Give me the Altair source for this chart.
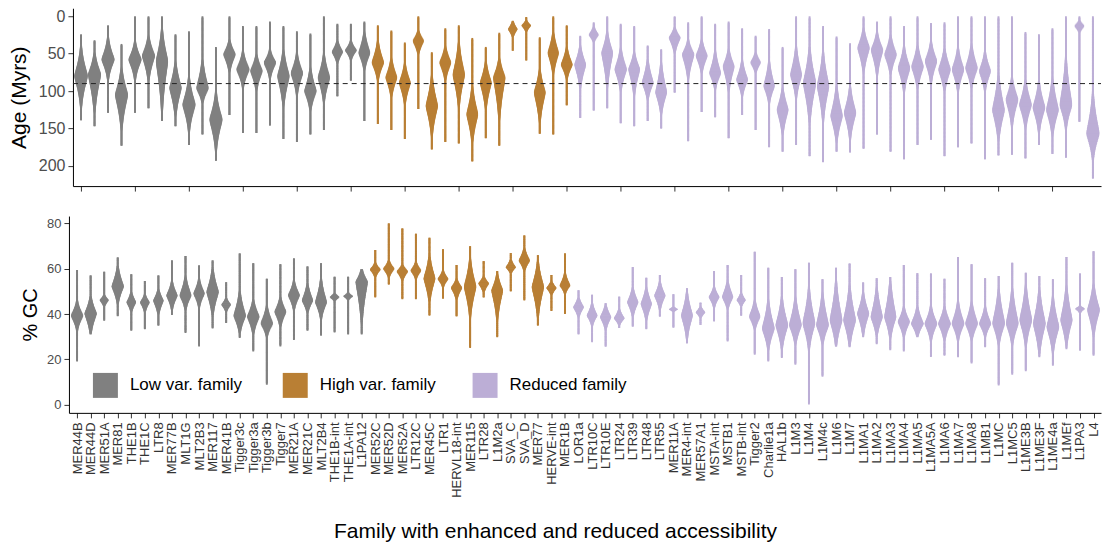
import altair as alt
import numpy as np
import pandas as pd

alt.data_transformers.disable_max_rows()

families = [
    "MER44B", "MER44D", "MER51A", "MER81", "THE1B", "THE1C", "LTR8", "MER77B", "MLT1G", "MLT2B3",
    "MER117", "MER41B", "Tigger3c", "Tigger3a", "Tigger3b", "Tigger7", "MER21A", "MER21C", "MLT2B4",
    "THE1B-int", "THE1A-int", "L1PA12",
    "MER52C", "MER52D", "MER52A", "LTR12C", "MER45C", "LTR1", "HERVL18-int", "MER115", "LTR28",
    "L1M2a", "SVA_C", "SVA_D", "MER77", "HERVE-int", "MER1B",
    "LOR1a", "LTR10C", "LTR10E", "LTR24", "LTR39", "LTR48", "LTR55", "MER11A", "MER4-int", "MER57A1",
    "MSTA-int", "MSTB1", "MSTB-int", "Tigger2", "Charlie1a", "HAL1b", "L1M3", "L1M4", "L1M4c", "L1M6",
    "L1M7", "L1MA1", "L1MA2", "L1MA3", "L1MA4", "L1MA5", "L1MA5A", "L1MA6", "L1MA7", "L1MA8", "L1MB1",
    "L1MC", "L1MC5", "L1ME3B", "L1ME3F", "L1ME4a", "L1MEf", "L1PA3", "L4",
]
group_names = ["Low var. family", "High var. family", "Reduced family"]
group_sizes = [22, 15, 39]
group_colors = ["#808080", "#b97f34", "#bcaed6"]
age_threshold = 90

# Age (Myrs): min, body low, mode, body high, max, half width
age_min = [24, 32, 12, 37, 0, 0, 0, 24, 20, 0, 41, 0, 13, 13, 7, 13, 20, 23, 0, 10, 10, 7,
           12, 19, 35, 0, 48, 16, 12, 29, 41, 22, 6, 1, 28, 0, 12,
           26, 8, 0, 10, 13, 39, 44, 0, 8, 0, 10, 7, 16, 26, 17, 41, 0, 0, 13, 27, 36, 0, 7, 0,
           13, 0, 9, 8, 0, 0, 0, 0, 0, 21, 24, 16, 0, 0, 0]
age_lo = [50, 55, 35, 77, 39, 32, 26, 68, 90, 66, 110, 35, 52, 55, 48, 52, 55, 75, 57, 35, 35, 26,
          39, 61, 68, 21, 88, 44, 44, 101, 66, 61, 8, 6, 77, 26, 46,
          44, 15, 26, 48, 52, 64, 70, 17, 35, 35, 52, 48, 64, 50, 66, 101, 48, 52, 57, 101, 101, 21, 26, 30,
          46, 44, 39, 48, 48, 44, 52, 88, 88, 92, 95, 92, 70, 6, 115]
age_mode = [79, 77, 57, 104, 57, 52, 59, 95, 117, 95, 137, 50, 70, 72, 61, 79, 75, 99, 81, 47, 45, 48,
            61, 81, 88, 32, 119, 61, 77, 130, 88, 81, 17, 12, 101, 48, 64,
            64, 24, 48, 70, 70, 88, 101, 28, 50, 52, 75, 66, 84, 61, 92, 124, 77, 88, 92, 132, 128, 41, 44, 50,
            68, 66, 59, 70, 70, 68, 72, 124, 110, 117, 121, 124, 117, 12, 155]
age_hi = [110, 115, 77, 139, 77, 77, 110, 124, 144, 110, 168, 68, 88, 92, 77, 110, 97, 119, 106, 59, 55, 66,
          79, 101, 110, 46, 150, 79, 110, 159, 115, 124, 26, 19, 132, 70, 79,
          88, 32, 84, 92, 97, 106, 124, 44, 75, 70, 92, 92, 101, 72, 110, 150, 101, 128, 128, 159, 155, 66, 70, 70,
          92, 88, 81, 92, 92, 88, 92, 155, 137, 141, 146, 150, 141, 19, 181]
age_max = [139, 147, 129, 173, 129, 123, 140, 147, 172, 158, 193, 132, 156, 156, 146, 164, 168, 158, 152, 107, 86, 140,
           144, 152, 164, 124, 178, 168, 170, 194, 163, 173, 46, 59, 157, 158, 119,
           136, 126, 123, 143, 147, 140, 150, 102, 167, 128, 135, 163, 132, 152, 175, 181, 172, 187, 195, 181, 182, 177, 158, 181,
           191, 172, 165, 187, 175, 170, 191, 186, 185, 190, 172, 184, 189, 141, 217]
age_w = [.50, .48, .48, .48, .48, .48, .45, .45, .48, .45, .48, .45, .48, .45, .45, .45, .45, .45, .45, .41, .43, .43,
         .45, .43, .43, .41, .45, .43, .45, .43, .43, .45, .35, .35, .43, .41, .43,
         .43, .36, .43, .45, .43, .43, .43, .43, .45, .43, .43, .43, .43, .38, .41, .43, .43, .48, .45, .45, .45, .45, .45, .45,
         .45, .45, .45, .45, .45, .45, .43, .46, .46, .46, .46, .46, .46, .35, .48]

# % GC: min, body low, mode, body high, max, half width
gc_min = [19, 31, 37, 39, 32.6, 33.3, 34.8, 39.6, 31.6, 25.7, 33.6, 36, 29.4, 23.5, 8.8, 25.7, 28.5, 32.6, 30.4, 31.9, 31, 31,
          47.3, 53, 46.5, 46.5, 39.2, 46.8, 38.9, 25, 47.3, 29.7, 50, 46, 34.8, 41.4, 40,
          31, 27.5, 25.6, 33.8, 34.4, 33.3, 38.8, 34, 27, 35.2, 36.7, 27.9, 39.2, 22, 19, 20.6, 17.6, 0, 12.3, 25.6, 25.3,
          29.7, 26.7, 24, 23.5, 29.7, 21, 21.6, 20.9, 18.2, 25.3, 8.4, 13.2, 14.7, 20.9, 17.2, 24.5, 23.8, 21.6]
gc_lo = [34, 33, 43.6, 46, 41.4, 41.4, 40.7, 43, 43, 44, 41.4, 41.4, 33, 32.6, 31, 35.5, 43, 41.4, 39.2, 45.8, 46.3, 40,
         56.8, 56.8, 55.4, 56, 47.3, 52.4, 47.3, 41.4, 50.2, 40, 58.3, 59.8, 41.4, 48.8, 49.5,
         39.2, 35.5, 34, 35.5, 40, 38.5, 43, 41, 31, 38.5, 43.6, 43, 43.6, 34, 26, 26.7, 28.2, 26.7, 28.2, 28.2, 28.2,
         32.6, 31.9, 31, 31, 31, 29.7, 29.7, 29.7, 29.7, 31, 28.2, 28.2, 28.2, 25.3, 25.3, 28.2, 40.7, 32.6]
gc_mode = [39, 40, 46, 52, 45, 45, 45.8, 48, 48, 48.8, 49.5, 44, 39, 38.5, 35.5, 40.7, 48, 45.8, 45, 47.3, 47.7, 54,
           59.5, 59.8, 58.6, 59, 55.4, 55.4, 51.4, 51.7, 53.4, 50.2, 60.5, 63.4, 51.7, 51.4, 52.4,
           42.9, 39.2, 38.5, 38, 45, 44.3, 48, 42, 39.2, 40.7, 47.3, 47.3, 46, 38.5, 33.3, 34.8, 34.8, 35.5, 34.8, 37, 37,
           40, 38.5, 38.5, 36.3, 35.5, 35.5, 35.5, 35.5, 35.5, 35.5, 35.5, 35.5, 37, 35.5, 34, 37, 42.1, 41.4]
gc_hi = [44, 46, 48, 59, 48.8, 48, 50, 53, 54.6, 53.9, 57.6, 46.5, 47.3, 44.3, 41.4, 45.8, 53, 51.7, 53, 48.8, 49, 58.5,
         62, 62.7, 61, 62, 63.4, 58.3, 54.6, 61.2, 56, 56, 63.4, 67.8, 60.5, 53.9, 56.8,
         46.5, 43.6, 42.9, 41.4, 50.2, 50.2, 53, 43, 47.3, 42.9, 51, 53, 48.8, 44.3, 42.9, 44.3, 44.3, 47.3, 45.8, 50.2, 48.8,
         47.3, 48.8, 51, 41.4, 41.4, 41.4, 41.4, 42.9, 42.9, 41.4, 47.3, 47.3, 48.8, 47.3, 44.3, 48.8, 43, 50.2]
gc_max = [59.5, 57, 58.7, 65, 57.6, 54.6, 57, 63.7, 65.6, 61.5, 63.7, 54, 66.8, 62.4, 55.6, 62, 64.6, 61, 62.4, 56.5, 56.5, 59.8,
          68.3, 80, 77.8, 75.5, 73.7, 68.6, 61.7, 70, 63.4, 59, 67, 74.7, 66, 57.3, 66.8,
          50.5, 48.5, 44.8, 47.7, 60.8, 56, 57.3, 48.8, 51.4, 45, 59, 61.7, 57.3, 67.5, 60.5, 56.4, 59.8, 62.7, 55.4, 60.5, 62.3,
          53.9, 55.8, 56.4, 61.7, 58, 57.9, 55.6, 65.2, 62, 55.8, 56.8, 62.7, 58.3, 56.8, 55.4, 65.2, 57.9, 67.8]
gc_w = [.45, .45, .33, .45, .35, .35, .38, .41, .43, .41, .45, .35, .45, .45, .45, .43, .43, .41, .43, .35, .35, .45,
        .39, .41, .41, .39, .43, .39, .41, .45, .39, .43, .37, .41, .45, .37, .39,
        .39, .39, .41, .39, .41, .41, .41, .33, .43, .35, .39, .41, .33, .41, .46, .46, .46, .46, .46, .46, .46,
        .44, .44, .44, .44, .46, .46, .46, .46, .46, .44, .46, .46, .46, .46, .46, .44, .35, .46]

groups = []
for name, n in zip(group_names, group_sizes):
    groups += [name] * n


def violin_table(vmin, vlo, vmode, vhi, vmax, vw, steps=100):
    rows = []
    for i, fam in enumerate(families):
        lo, b1, m, b2, hi, w = vmin[i], vlo[i], vmode[i], vhi[i], vmax[i], vw[i]
        edges = np.linspace(lo, hi, steps + 1)
        step = edges[1] - edges[0]
        mids = (edges[:-1] + edges[1:]) / 2
        s1 = max((m - b1) / 1.2, 0.4)
        s2 = max((b2 - m) / 1.2, 0.4)
        d = mids - m
        s = np.where(d < 0, s1, s2)
        hw = np.maximum(w * np.exp(-(np.abs(d) / s) ** 1.3), 0.07)
        for j in range(steps):
            top = min(edges[j + 1] + 1.5 * step, hi)
            rows.append({"fam": fam, "group": groups[i], "v": float(edges[j]), "v2": float(top),
                         "xl": i + 1 - float(hw[j]), "xh": i + 1 + float(hw[j])})
    return pd.DataFrame(rows)


age_df = violin_table(age_min, age_lo, age_mode, age_hi, age_max, age_w)
gc_df = violin_table(gc_min, gc_lo, gc_mode, gc_hi, gc_max, gc_w)

FONT = "Liberation Sans"
label_expr = "[" + ",".join("'" + f + "'" for f in families) + "][datum.value - 1]"
ticks = list(range(1, len(families) + 1))
x_lo, x_hi = 0.4, 76.6
W = 1033

color_scale = alt.Scale(domain=group_names, range=group_colors)

top_area = alt.Chart(age_df).mark_rect(strokeWidth=0).encode(
    y=alt.Y("v:Q",
            scale=alt.Scale(domain=[-10.7, 227], reverse=True, nice=False, zero=False),
            axis=alt.Axis(values=[0, 50, 100, 150, 200], title="Age (Myrs)", grid=False, offset=-4,
                          labelFontSize=16, labelColor="#4d4d4d", labelFont=FONT, labelPadding=3,
                          tickSize=5, tickColor="#333333", domainColor="black",
                          titleFontSize=21, titleFont=FONT, titleFontWeight="normal", titleColor="black",
                          minExtent=35, maxExtent=35, titlePadding=8)),
    y2="v2:Q",
    x=alt.X("xl:Q",
            scale=alt.Scale(domain=[x_lo, x_hi], range=[4, W], nice=False, zero=False),
            axis=alt.Axis(values=ticks, labels=False, title=None, grid=False, tickSize=5,
                          tickColor="#333333", domainColor="black")),
    x2="xh:Q",
    color=alt.Color("group:N", scale=color_scale, legend=None),
)

rule = alt.Chart(pd.DataFrame({"v": [age_threshold]})).mark_rule(
    color="#222222", strokeDash=[5, 4], strokeWidth=1
).encode(y="v:Q", x=alt.datum(x_lo), x2=alt.datum(x_hi))

top = alt.layer(top_area, rule).properties(width=W, height=178)

bottom = alt.Chart(gc_df).mark_rect(strokeWidth=0, clip=True).encode(
    y=alt.Y("v:Q",
            scale=alt.Scale(domain=[-3.66, 83.3], nice=False, zero=False),
            axis=alt.Axis(values=[0, 20, 40, 60, 80], title="% GC", grid=False,
                          labelFontSize=13, labelColor="#4d4d4d", labelFont=FONT, labelPadding=3,
                          tickSize=5, tickColor="#333333", domainColor="black",
                          titleFontSize=20, titleFont=FONT, titleFontWeight="normal", titleColor="black",
                          titleX=-28, titleY=98.5)),
    y2="v2:Q",
    x=alt.X("xl:Q",
            scale=alt.Scale(domain=[x_lo, 76.55], nice=False, zero=False),
            axis=alt.Axis(values=ticks, labelExpr=label_expr, labelAngle=-90, labelAlign="right",
                          labelBaseline="middle", labelFontSize=13, labelFont=FONT, labelColor="#333333",
                          labelPadding=4, labelOverlap=False, labelFlush=False, grid=False,
                          tickSize=5, tickColor="#333333", domainColor="black",
                          title="Family with enhanced and reduced accessibility",
                          titleFontSize=21, titleFont=FONT, titleFontWeight="normal", titleColor="black",
                          titleX=486.5, titleY=124.5, titleBaseline="alphabetic")),
    x2="xh:Q",
    color=alt.Color("group:N", scale=color_scale,
                    legend=alt.Legend(orient="none", legendX=24, legendY=157, direction="horizontal",
                                      title=None, symbolType="square", symbolSize=625,
                                      symbolStrokeWidth=0, symbolOpacity=1, labelFontSize=17,
                                      labelFont=FONT, labelColor="black", labelOffset=12,
                                      columnPadding=35, gridAlign="all", padding=0, labelLimit=300)),
).properties(width=W, height=197)

chart = alt.vconcat(top, bottom, spacing=24).resolve_scale(
    x="independent", y="independent", color="shared"
).resolve_legend(color="independent").properties(
    padding={"left": 1, "top": 0, "right": 0, "bottom": 0}
).configure(font=FONT).configure_view(stroke=None)

chart.save("out.html", embed_options={"renderer": "svg", "actions": False})
